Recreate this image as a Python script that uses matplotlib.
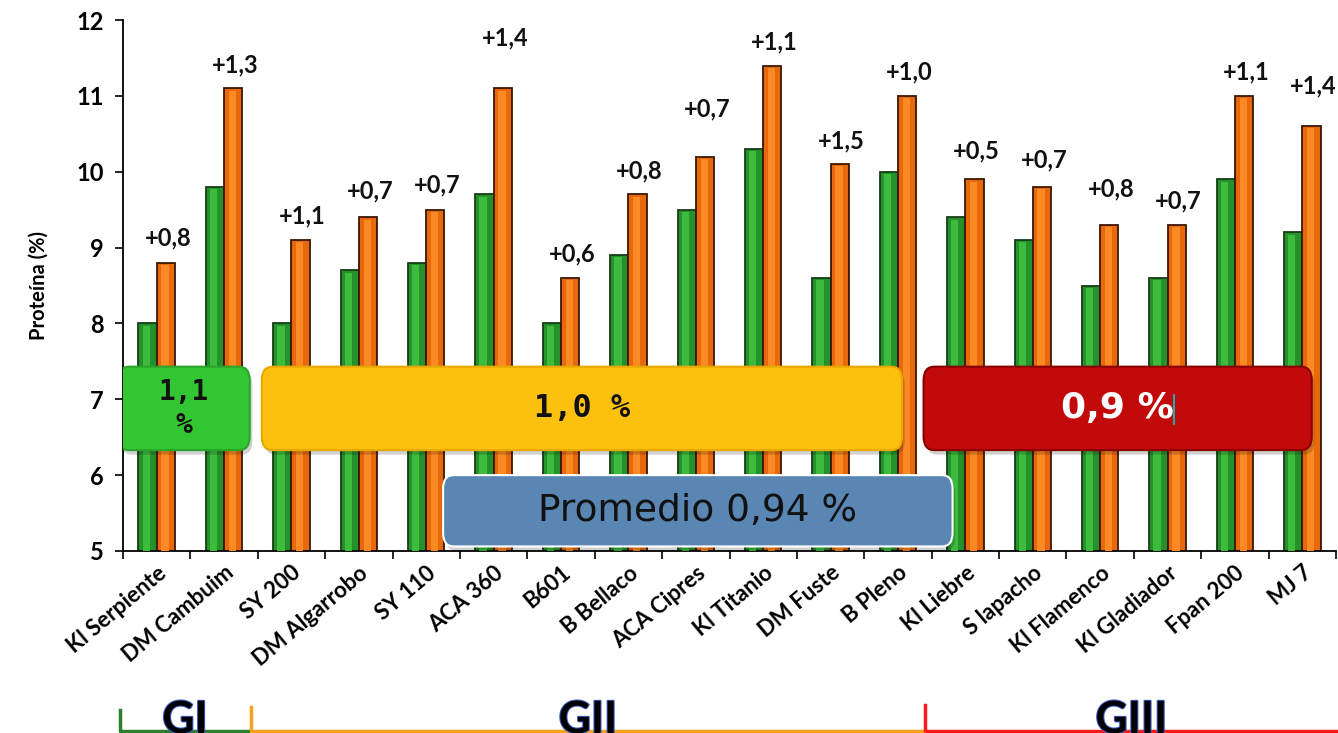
import matplotlib.pyplot as plt
import matplotlib.patheffects as pe
from matplotlib.patches import FancyBboxPatch
from matplotlib.lines import Line2D
import numpy as np

plt.rcParams['font.family'] = ['Lato', 'DejaVu Sans']

# data
cultivares = ["Kl Serpiente", "DM Cambuim", "SY 200", "DM Algarrobo", "SY 110",
              "ACA 360", "B601", "B Bellaco", "ACA Cipres", "Kl Titanio",
              "DM Fuste", "B Pleno", "Kl Liebre", "S lapacho", "Kl Flamenco",
              "Kl Gladiador", "Fpan 200", "MJ 7"]
proteina_sin = [8.0, 9.8, 8.0, 8.7, 8.8, 9.7, 8.0, 8.9, 9.5, 10.3,
                8.6, 10.0, 9.4, 9.1, 8.5, 8.6, 9.9, 9.2]
proteina_con = [8.8, 11.1, 9.1, 9.4, 9.5, 11.1, 8.6, 9.7, 10.2, 11.4,
                10.1, 11.0, 9.9, 9.8, 9.3, 9.3, 11.0, 10.6]
diferencias = ["+0,8", "+1,3", "+1,1", "+0,7", "+0,7", "+1,4", "+0,6", "+0,8", "+0,7",
               "+1,1", "+1,5", "+1,0", "+0,5", "+0,7", "+0,8", "+0,7", "+1,1", "+1,4"]
# how high each label sits above its bar (pixels)
label_lift = [25, 23, 24, 26, 25, 50, 24, 24, 48, 24, 23, 24, 28, 27, 36, 24, 24, 40]

W, H = 1338, 733
fig = plt.figure(figsize=(W / 100, H / 100), dpi=100)
ax = fig.add_axes([123 / W, 1 - 551 / H, 1213 / W, 531 / H])

x = np.arange(len(cultivares))
bw = 0.27
ax.bar(x - bw / 2, proteina_sin, bw, bottom=0, color="#24912a",
       edgecolor="#173d17", linewidth=1.3, zorder=2)
ax.bar(x + bw / 2, proteina_con, bw, bottom=0, color="#e8690c",
       edgecolor="#3a1800", linewidth=1.3, zorder=2)
# lighter stripe to give the bars a bit of the 3D look
ax.bar(x - bw / 2 - bw * 0.08, np.array(proteina_sin) - 0.03, bw * 0.4, bottom=0,
       color="#3dbb3d", linewidth=0, zorder=3)
ax.bar(x + bw / 2 - bw * 0.04, np.array(proteina_con) - 0.03, bw * 0.4, bottom=0,
       color="#fb8a24", linewidth=0, zorder=3)

for i in range(len(cultivares)):
    ax.annotate(diferencias[i], (x[i] + bw / 2, proteina_con[i]),
                xytext=(2, label_lift[i]), textcoords="offset pixels",
                ha="center", va="center", fontsize=17, fontweight="bold",
                color="#111111", zorder=4)

ax.set_xlim(-0.5, len(cultivares) - 0.5)
ax.set_ylim(5, 12)
ax.set_yticks(range(5, 13))
ax.set_xticks(np.arange(-0.5, len(cultivares), 1.0))
ax.set_xticklabels([])
ax.set_xticks(x, minor=True)
ax.set_xticklabels(cultivares, minor=True, rotation=40, ha="right",
                   rotation_mode="anchor", fontsize=16, fontweight="bold")
ax.tick_params(axis="x", which="minor", length=0, pad=8)
ax.tick_params(axis="x", which="major", length=6, width=1.2, direction="out")
ax.tick_params(axis="y", length=6, width=1.2, labelsize=17, pad=8)
for lab in ax.get_yticklabels():
    lab.set_fontweight("bold")
ax.spines["top"].set_visible(False)
ax.spines["right"].set_visible(False)
ax.spines["left"].set_linewidth(1.3)
ax.spines["bottom"].set_linewidth(1.3)
ax.set_ylabel("Proteína (%)", fontsize=14.5, fontweight="bold", labelpad=20)


# group boxes
def caja(x0, x1, y0, y1, fc, ec, texto, tc, font, size, weight="bold"):
    sombra = FancyBboxPatch((x0 + 0.04, y0 - 0.06), x1 - x0, y1 - y0,
                            boxstyle="round,pad=0,rounding_size=0.16",
                            mutation_aspect=1.1, fc="#000000", ec="none",
                            alpha=0.18, zorder=5)
    ax.add_patch(sombra)
    p = FancyBboxPatch((x0, y0), x1 - x0, y1 - y0,
                       boxstyle="round,pad=0,rounding_size=0.16",
                       mutation_aspect=1.1, fc=fc, ec=ec, lw=1.5, zorder=6)
    ax.add_patch(p)
    ax.text((x0 + x1) / 2, (y0 + y1) / 2, texto, ha="center", va="center",
            color=tc, fontsize=size, fontweight=weight, family=font,
            linespacing=1.2, zorder=7)


caja(-0.57, 1.38, 6.33, 7.43, "#33c633", "#2aa52a", "1,1\n%", "#111111",
     "DejaVu Sans Mono", 20)
caja(1.56, 11.06, 6.33, 7.43, "#fbc10e", "#e8a800", "1,0 %", "#111111",
     "DejaVu Sans Mono", 23)
caja(11.38, 17.14, 6.33, 7.43, "#c20a0a", "#8a0000", "0,9 %", "white",
     "DejaVu Sans", 26)
caja(4.25, 11.81, 5.06, 6.0, "#5a86b3", "white", "Promedio 0,94 %", "#111111",
     "DejaVu Sans", 27, weight="normal")
ax.plot([15.1, 15.1], [6.68, 7.05], color="#00c8d8", lw=1.2, zorder=8)

# group brackets under the chart
grupos = ["GI", "GII", "GIII"]
grupo_px = [(120, 250), (251, 925), (925, 1338)]
grupo_col = ["#2f7d2f", "#f7a11c", "#ff1a1a"]
tick_top = [710, 707, 705]
for g, (a, b), c, t in zip(grupos, grupo_px, grupo_col, tick_top):
    fig.add_artist(Line2D([a / W, a / W, b / W], [1 - t / H, 1 - 731 / H, 1 - 731 / H],
                          transform=fig.transFigure, color=c, lw=2.5))
    fig.text((a + b) / 2 / W, 1 - 700 / H, g, ha="center", va="top",
             fontsize=32, fontweight="bold", color="black",
             path_effects=[pe.withStroke(linewidth=1.5, foreground="#3a5cc0")])

fig.savefig("out.png", dpi=100)
